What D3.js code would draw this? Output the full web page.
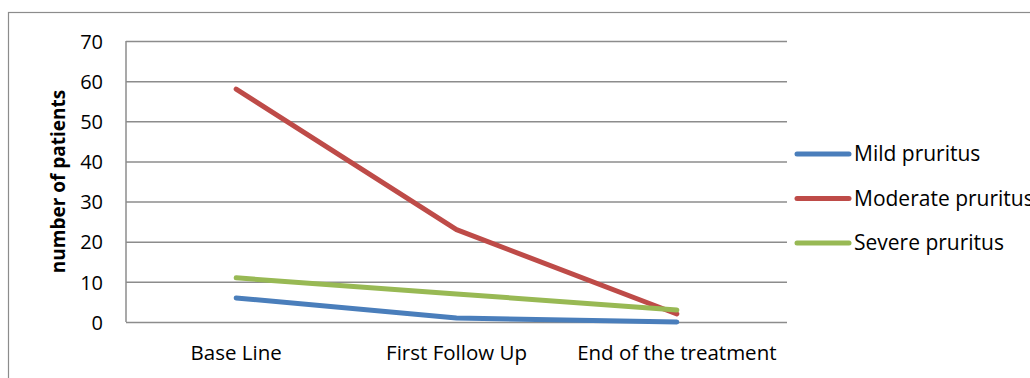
<!DOCTYPE html>
<html>
<head>
<meta charset="utf-8">
<script src="https://cdn.jsdelivr.net/npm/d3@7"></script>
<style>
  html, body { margin: 0; padding: 0; background: #fff; }
  svg { display: block; }
  text { font-family: "Open Sans", "Liberation Sans", Arial, sans-serif; fill: #000; }
</style>
</head>
<body>
<svg id="chart" width="1030" height="378"></svg>
<script>
// Patients by pruritus severity at each visit
const categories = ["Base Line", "First Follow Up", "End of the treatment"];
const seriesNames = ["Mild pruritus", "Moderate pruritus", "Severe pruritus"];
const mildValues = [6, 1, 0];
const moderateValues = [58, 23, 2];
const severeValues = [11, 7, 3];
const yTicks = [0, 10, 20, 30, 40, 50, 60, 70];
const seriesColors = ["#4a7ebb", "#be4b48", "#98b954"];

const series = [mildValues, moderateValues, severeValues].map((values, i) => ({
  name: seriesNames[i], values, color: seriesColors[i]
}));

const FONT = "'Open Sans', 'Liberation Sans', Arial, sans-serif";
const svg = d3.select("#chart");
const plot = { left: 126, right: 787, top: 41, bottom: 322 };

// outer chart frame
svg.append("rect")
  .attr("x", 8.5).attr("y", 12.5)
  .attr("width", 1040).attr("height", 400)
  .attr("fill", "none").attr("stroke", "#8c8c8c").attr("stroke-width", 1.2);

const x = d3.scaleBand().domain(categories).range([plot.left, plot.right]);
const y = d3.scaleLinear().domain([0, 70]).range([plot.bottom, plot.top]);

// horizontal gridlines and y tick labels
const yAxis = d3.axisLeft(y).tickValues(yTicks).tickSize(-(plot.right - plot.left)).tickPadding(23);
const gy = svg.append("g").attr("transform", `translate(${plot.left},0)`).call(yAxis);
gy.select(".domain").remove();
gy.selectAll(".tick line").attr("stroke", "#8c8c8c").attr("stroke-width", 1.5);
gy.selectAll(".tick text")
  .attr("font-size", 20).attr("font-family", FONT)
  .attr("fill", "#000").attr("dy", "0.36em");

// vertical value axis line
svg.append("line")
  .attr("x1", plot.left).attr("x2", plot.left)
  .attr("y1", plot.top).attr("y2", plot.bottom)
  .attr("stroke", "#8c8c8c").attr("stroke-width", 1.5);

// category labels
const xAxis = d3.axisBottom(x).tickSize(0).tickPadding(23);
const gx = svg.append("g").attr("transform", `translate(0,${plot.bottom})`).call(xAxis);
gx.select(".domain").remove();
gx.selectAll(".tick text")
  .attr("font-size", 20.5).attr("font-family", FONT)
  .attr("fill", "#000");

// y axis title
svg.append("text")
  .attr("transform", `translate(65,${(plot.top + plot.bottom) / 2}) rotate(-90)`)
  .attr("text-anchor", "middle")
  .attr("font-size", 19).attr("font-weight", "bold")
  .text("number of patients");

// series lines
const line = d3.line()
  .x((d, i) => x(categories[i]) + x.bandwidth() / 2)
  .y(d => y(d));

svg.selectAll("path.series")
  .data(series)
  .join("path")
  .attr("class", "series")
  .attr("d", d => line(d.values))
  .attr("fill", "none")
  .attr("stroke", d => d.color)
  .attr("stroke-width", 5)
  .attr("stroke-linecap", "round")
  .attr("stroke-linejoin", "round");

// legend
const legend = svg.append("g").attr("transform", "translate(797,154)");
const item = legend.selectAll("g").data(series).join("g")
  .attr("transform", (d, i) => `translate(0,${i * 44.5})`);
item.append("line")
  .attr("x1", 0).attr("x2", 52).attr("y1", 0).attr("y2", 0)
  .attr("stroke", d => d.color).attr("stroke-width", 5).attr("stroke-linecap", "round");
item.append("text")
  .attr("x", 57).attr("y", 0).attr("dy", "0.35em")
  .attr("font-size", 21)
  .text(d => d.name);
</script>
</body>
</html>
